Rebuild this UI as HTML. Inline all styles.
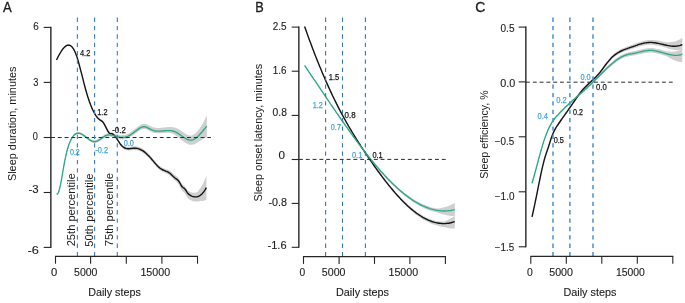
<!DOCTYPE html>
<html><head><meta charset="utf-8"><title>Figure</title>
<style>html,body{margin:0;padding:0;background:#fff;overflow:hidden;}svg{display:block;font-family:"Liberation Sans",sans-serif;will-change:transform;}</style>
</head><body>
<svg width="685" height="303" viewBox="0 0 685 303" font-family="Liberation Sans, sans-serif">
<path d="M56.5,59.5 57.5,57.5 58.5,55.5 59.5,53.6 60.5,51.9 61.5,50.3 62.5,48.8 63.5,47.5 64.5,46.4 65.6,45.6 66.6,44.9 67.6,44.5 68.6,44.4 69.6,44.5 70.6,45.0 71.6,45.8 72.6,46.9 73.6,48.4 74.6,50.2 75.6,52.4 76.6,55.1 77.6,58.2 78.6,61.6 79.6,65.3 80.6,69.2 81.7,73.2 82.7,77.2 83.7,81.2 84.7,85.0 85.7,88.7 86.7,92.2 87.7,95.5 88.7,98.5 89.7,101.4 90.7,104.0 91.7,106.5 92.7,108.7 93.7,110.7 94.7,112.6 95.7,114.2 96.7,115.6 97.7,116.8 98.8,117.8 99.8,118.6 100.8,119.2 101.8,119.8 102.8,120.7 103.8,122.0 104.8,123.8 105.8,125.8 106.8,127.8 107.8,129.7 108.8,131.1 109.8,132.0 110.8,132.2 111.8,132.2 112.8,132.6 113.8,133.4 114.9,134.5 115.9,135.8 116.9,137.3 117.9,138.8 118.9,140.4 119.9,141.8 120.9,143.2 121.9,144.3 122.9,145.2 123.9,145.9 124.9,146.3 125.9,146.7 126.9,146.8 127.9,146.9 128.9,146.9 129.9,146.8 130.9,146.7 132.0,146.5 133.0,146.4 134.0,146.3 135.0,146.3 136.0,146.3 137.0,146.4 138.0,146.6 139.0,146.9 140.0,147.3 141.0,147.8 142.0,148.3 143.0,148.9 144.0,149.6 145.0,150.4 146.0,151.3 147.0,152.2 148.0,153.2 149.1,154.2 150.1,155.4 151.1,156.5 152.1,157.7 153.1,158.9 154.1,160.1 155.1,161.3 156.1,162.4 157.1,163.5 158.1,164.5 159.1,165.4 160.1,166.2 161.1,166.9 162.1,167.5 163.1,168.0 164.1,168.4 165.2,168.8 166.2,169.2 167.2,169.5 168.2,170.0 169.2,170.5 170.2,171.1 171.2,171.9 172.2,172.8 173.2,173.8 174.2,174.7 175.2,175.4 176.2,176.1 177.2,176.8 178.2,177.8 179.2,179.0 180.2,180.8 181.2,182.8 182.3,184.2 183.3,185.0 184.3,185.7 185.3,186.7 186.3,188.3 187.3,189.9 188.3,190.9 189.3,191.6 190.3,192.0 191.3,192.4 192.3,192.6 193.3,192.8 194.3,192.8 195.3,192.7 196.3,192.5 197.3,191.9 198.4,190.8 199.4,189.5 200.4,188.1 201.4,186.5 202.4,184.7 203.4,182.8 204.4,180.6 205.4,178.3 206.4,175.8 206.4,199.4 205.4,200.2 204.4,200.6 203.4,200.9 202.4,200.9 201.4,200.8 200.4,201.0 199.4,201.3 198.4,201.4 197.3,201.4 196.3,201.5 195.3,201.6 194.3,201.5 193.3,201.3 192.3,201.0 191.3,200.6 190.3,200.1 189.3,199.5 188.3,198.7 187.3,197.6 186.3,195.8 185.3,194.0 184.3,192.8 183.3,191.9 182.3,190.9 181.2,189.3 180.2,187.1 179.2,185.2 178.2,183.7 177.2,182.6 176.2,181.6 175.2,180.8 174.2,179.9 173.2,178.9 172.2,177.9 171.2,176.8 170.2,175.9 169.2,175.1 168.2,174.5 167.2,173.9 166.2,173.4 165.2,173.0 164.1,172.5 163.1,172.1 162.1,171.6 161.1,171.0 160.1,170.3 159.1,169.5 158.1,168.6 157.1,167.5 156.1,166.5 155.1,165.3 154.1,164.2 153.1,163.0 152.1,161.8 151.1,160.6 150.1,159.4 149.1,158.3 148.0,157.2 147.0,156.2 146.0,155.3 145.0,154.4 144.0,153.6 143.0,152.9 142.0,152.3 141.0,151.8 140.0,151.3 139.0,150.9 138.0,150.6 137.0,150.3 136.0,150.2 135.0,150.1 134.0,150.1 133.0,150.1 132.0,150.2 130.9,150.3 129.9,150.4 128.9,150.4 127.9,150.4 126.9,150.3 125.9,150.1 124.9,149.7 123.9,149.2 122.9,148.5 121.9,147.6 120.9,146.4 119.9,145.0 118.9,143.5 117.9,141.9 116.9,140.3 115.9,138.8 114.9,137.5 113.8,136.4 112.8,135.5 111.8,135.1 110.8,135.0 109.8,134.8 108.8,133.9 107.8,132.4 106.8,130.5 105.8,128.4 104.8,126.3 103.8,124.5 102.8,123.2 101.8,122.3 100.8,121.6 99.8,121.0 98.8,120.1 97.7,119.1 96.7,117.9 95.7,116.4 94.7,114.8 93.7,112.9 92.7,110.9 91.7,108.6 90.7,106.2 89.7,103.5 88.7,100.6 87.7,97.5 86.7,94.2 85.7,90.7 84.7,86.9 83.7,83.1 82.7,79.1 81.7,75.0 80.6,71.0 79.6,67.0 78.6,63.3 77.6,59.8 76.6,56.7 75.6,54.1 74.6,51.8 73.6,49.9 72.6,48.4 71.6,47.3 70.6,46.5 69.6,46.0 68.6,45.8 67.6,45.9 66.6,46.3 65.6,46.9 64.5,47.7 63.5,48.8 62.5,50.0 61.5,51.4 60.5,53.0 59.5,54.7 58.5,56.6 57.5,58.5 56.5,60.5Z" fill="#cfcfcf"/>
<path d="M56.6,193.6 57.6,193.5 58.6,191.5 59.6,188.1 60.6,183.5 61.6,178.1 62.6,172.4 63.6,166.5 64.6,161.0 65.6,156.1 66.6,151.7 67.6,148.0 68.6,144.7 69.6,141.9 70.6,139.6 71.6,137.6 72.6,136.0 73.6,134.7 74.6,133.7 75.6,133.0 76.6,132.5 77.6,132.3 78.6,132.2 79.6,132.3 80.6,132.6 81.6,133.1 82.6,133.6 83.6,134.2 84.6,134.9 85.6,135.6 86.6,136.4 87.6,137.1 88.6,137.8 89.6,138.5 90.6,139.1 91.6,139.6 92.6,140.0 93.6,140.2 94.7,140.2 95.7,140.1 96.7,139.8 97.7,139.3 98.7,138.7 99.7,138.1 100.7,137.4 101.7,136.6 102.7,135.9 103.7,135.2 104.7,134.5 105.7,134.0 106.7,133.6 107.7,133.3 108.7,133.1 109.7,133.1 110.7,133.2 111.7,133.3 112.7,133.5 113.7,133.7 114.7,134.0 115.7,134.2 116.7,134.5 117.7,134.7 118.7,134.9 119.7,135.1 120.7,135.2 121.7,135.2 122.7,135.2 123.7,135.1 124.7,135.0 125.7,134.7 126.7,134.3 127.7,133.9 128.7,133.4 129.7,132.8 130.7,132.2 131.7,131.5 132.7,130.7 133.7,130.0 134.7,129.2 135.7,128.4 136.7,127.6 137.7,126.8 138.7,126.1 139.7,125.4 140.7,124.8 141.7,124.3 142.7,124.0 143.7,123.8 144.7,123.8 145.7,124.0 146.7,124.3 147.7,124.8 148.7,125.3 149.7,125.8 150.7,126.3 151.7,126.8 152.7,127.2 153.7,127.4 154.7,127.6 155.7,127.8 156.7,127.9 157.7,127.9 158.7,127.9 159.7,127.9 160.7,127.8 161.7,127.7 162.7,127.6 163.7,127.5 164.7,127.4 165.7,127.3 166.7,127.2 167.7,127.1 168.7,127.1 169.8,127.1 170.8,127.1 171.8,127.1 172.8,127.2 173.8,127.4 174.8,127.6 175.8,127.9 176.8,128.3 177.8,128.8 178.8,129.3 179.8,129.9 180.8,130.5 181.8,131.2 182.8,131.9 183.8,132.6 184.8,133.3 185.8,133.9 186.8,134.4 187.8,134.9 188.8,135.2 189.8,135.4 190.8,135.5 191.8,135.5 192.8,135.1 193.8,134.5 194.8,133.8 195.8,133.0 196.8,132.0 197.8,131.0 198.8,129.6 199.8,128.2 200.8,126.7 201.8,125.1 202.8,123.6 203.8,121.7 204.8,119.5 205.8,117.3 206.8,115.2 206.8,137.4 205.8,137.7 204.8,138.1 203.8,138.5 202.8,139.0 201.8,139.7 200.8,140.4 199.8,141.1 198.8,141.6 197.8,142.1 196.8,142.9 195.8,143.5 194.8,144.0 193.8,144.4 192.8,144.6 191.8,144.8 190.8,144.8 189.8,144.7 188.8,144.4 187.8,144.0 186.8,143.6 185.8,143.0 184.8,142.4 183.8,141.7 182.8,140.9 181.8,140.2 180.8,139.4 179.8,138.5 178.8,137.7 177.8,136.9 176.8,136.1 175.8,135.5 174.8,134.8 173.8,134.2 172.8,133.7 171.8,133.3 170.8,133.0 169.8,132.7 168.7,132.7 167.7,132.7 166.7,132.7 165.7,132.8 164.7,132.9 163.7,133.0 162.7,133.0 161.7,133.1 160.7,133.2 159.7,133.3 158.7,133.3 157.7,133.3 156.7,133.2 155.7,133.1 154.7,132.9 153.7,132.7 152.7,132.4 151.7,132.0 150.7,131.6 149.7,131.0 148.7,130.5 147.7,129.9 146.7,129.5 145.7,129.1 144.7,128.9 143.7,128.9 142.7,129.0 141.7,129.4 140.7,129.8 139.7,130.4 138.7,131.0 137.7,131.7 136.7,132.5 135.7,133.2 134.7,133.9 133.7,134.7 132.7,135.4 131.7,136.1 130.7,136.7 129.7,137.3 128.7,137.8 127.7,138.3 126.7,138.7 125.7,139.0 124.7,139.2 123.7,139.3 122.7,139.4 121.7,139.3 120.7,139.2 119.7,139.1 118.7,138.8 117.7,138.6 116.7,138.3 115.7,138.0 114.7,137.7 113.7,137.4 112.7,137.1 111.7,136.9 110.7,136.7 109.7,136.6 108.7,136.6 107.7,136.7 106.7,136.9 105.7,137.3 104.7,137.7 103.7,138.3 102.7,139.0 101.7,139.7 100.7,140.4 99.7,141.1 98.7,141.7 97.7,142.2 96.7,142.6 95.7,142.9 94.7,143.0 93.6,142.9 92.6,142.6 91.6,142.2 90.6,141.7 89.6,141.0 88.6,140.3 87.6,139.6 86.6,138.8 85.6,138.0 84.6,137.2 83.6,136.5 82.6,135.8 81.6,135.2 80.6,134.8 79.6,134.4 78.6,134.2 77.6,134.2 76.6,134.4 75.6,134.9 74.6,135.6 73.6,136.5 72.6,137.8 71.6,139.3 70.6,141.2 69.6,143.5 68.6,146.3 67.6,149.5 66.6,153.2 65.6,157.5 64.6,162.4 63.6,167.9 62.6,173.7 61.6,179.4 60.6,184.7 59.6,189.2 58.6,192.6 57.6,194.6 56.6,194.6Z" fill="#cfcfcf"/>
<path d="M56.5,60.0 57.5,58.0 58.5,56.0 59.5,54.2 60.5,52.5 61.5,50.9 62.5,49.4 63.5,48.2 64.5,47.1 65.6,46.2 66.6,45.6 67.6,45.2 68.6,45.1 69.6,45.3 70.6,45.7 71.6,46.5 72.6,47.6 73.6,49.1 74.6,51.0 75.6,53.2 76.6,55.9 77.6,59.0 78.6,62.4 79.6,66.2 80.6,70.1 81.7,74.1 82.7,78.1 83.7,82.1 84.7,86.0 85.7,89.7 86.7,93.2 87.7,96.5 88.7,99.6 89.7,102.4 90.7,105.1 91.7,107.6 92.7,109.8 93.7,111.8 94.7,113.7 95.7,115.3 96.7,116.7 97.7,117.9 98.8,119.0 99.8,119.8 100.8,120.4 101.8,121.1 102.8,121.9 103.8,123.3 104.8,125.1 105.8,127.1 106.8,129.1 107.8,131.0 108.8,132.5 109.8,133.4 110.8,133.6 111.8,133.6 112.8,134.1 113.8,134.9 114.9,136.0 115.9,137.3 116.9,138.8 117.9,140.4 118.9,141.9 119.9,143.4 120.9,144.8 121.9,145.9 122.9,146.8 123.9,147.5 124.9,148.0 125.9,148.4 126.9,148.6 127.9,148.7 128.9,148.7 129.9,148.6 130.9,148.5 132.0,148.4 133.0,148.2 134.0,148.2 135.0,148.2 136.0,148.2 137.0,148.4 138.0,148.6 139.0,148.9 140.0,149.3 141.0,149.8 142.0,150.3 143.0,150.9 144.0,151.6 145.0,152.4 146.0,153.3 147.0,154.2 148.0,155.2 149.1,156.2 150.1,157.4 151.1,158.5 152.1,159.7 153.1,160.9 154.1,162.1 155.1,163.3 156.1,164.4 157.1,165.5 158.1,166.5 159.1,167.4 160.1,168.2 161.1,168.9 162.1,169.5 163.1,170.0 164.1,170.4 165.2,170.8 166.2,171.3 167.2,171.7 168.2,172.2 169.2,172.8 170.2,173.5 171.2,174.4 172.2,175.4 173.2,176.4 174.2,177.3 175.2,178.2 176.2,178.9 177.2,179.6 178.2,180.5 179.2,181.8 180.2,183.5 181.2,185.5 182.3,187.0 183.3,187.7 184.3,188.4 185.3,189.5 186.3,191.0 187.3,192.7 188.3,193.9 189.3,194.7 190.3,195.3 191.3,195.9 192.3,196.3 193.3,196.6 194.3,196.8 195.3,196.9 196.3,196.9 197.3,196.7 198.4,196.4 199.4,195.9 200.4,195.2 201.4,194.4 202.4,193.4 203.4,192.3 204.4,190.9 205.4,189.4 206.4,187.6" fill="none" stroke="#141414" stroke-width="1.4" stroke-linejoin="round"/>
<path d="M56.6,194.1 57.6,194.0 58.6,192.1 59.6,188.7 60.6,184.1 61.6,178.8 62.6,173.0 63.6,167.2 64.6,161.7 65.6,156.8 66.6,152.5 67.6,148.7 68.6,145.5 69.6,142.7 70.6,140.4 71.6,138.5 72.6,136.9 73.6,135.6 74.6,134.6 75.6,133.9 76.6,133.5 77.6,133.2 78.6,133.2 79.6,133.4 80.6,133.7 81.6,134.1 82.6,134.7 83.6,135.4 84.6,136.1 85.6,136.8 86.6,137.6 87.6,138.4 88.6,139.1 89.6,139.8 90.6,140.4 91.6,140.9 92.6,141.3 93.6,141.5 94.7,141.6 95.7,141.5 96.7,141.2 97.7,140.8 98.7,140.2 99.7,139.6 100.7,138.9 101.7,138.2 102.7,137.4 103.7,136.8 104.7,136.2 105.7,135.7 106.7,135.3 107.7,135.0 108.7,134.9 109.7,134.9 110.7,135.0 111.7,135.2 112.7,135.4 113.7,135.6 114.7,135.9 115.7,136.2 116.7,136.5 117.7,136.8 118.7,137.0 119.7,137.2 120.7,137.4 121.7,137.4 122.7,137.5 123.7,137.4 124.7,137.3 125.7,137.0 126.7,136.7 127.7,136.3 128.7,135.8 129.7,135.3 130.7,134.7 131.7,134.0 132.7,133.3 133.7,132.6 134.7,131.8 135.7,131.1 136.7,130.3 137.7,129.6 138.7,128.9 139.7,128.2 140.7,127.6 141.7,127.2 142.7,126.8 143.7,126.7 144.7,126.7 145.7,126.9 146.7,127.3 147.7,127.8 148.7,128.3 149.7,128.9 150.7,129.4 151.7,129.9 152.7,130.2 153.7,130.6 154.7,130.8 155.7,131.0 156.7,131.1 157.7,131.1 158.7,131.1 159.7,131.1 160.7,131.1 161.7,131.0 162.7,130.9 163.7,130.8 164.7,130.7 165.7,130.7 166.7,130.6 167.7,130.6 168.7,130.6 169.8,130.6 170.8,130.7 171.8,130.8 172.8,131.0 173.8,131.3 174.8,131.7 175.8,132.1 176.8,132.6 177.8,133.2 178.8,133.9 179.8,134.5 180.8,135.2 181.8,136.0 182.8,136.7 183.8,137.4 184.8,138.0 185.8,138.6 186.8,139.1 187.8,139.5 188.8,139.9 189.8,140.1 190.8,140.1 191.8,140.1 192.8,139.8 193.8,139.4 194.8,138.9 195.8,138.2 196.8,137.4 197.8,136.5 198.8,135.5 199.8,134.4 200.8,133.3 201.8,132.2 202.8,131.0 203.8,129.8 204.8,128.6 205.8,127.4 206.8,126.3" fill="none" stroke="#2ea88a" stroke-width="1.35" stroke-linejoin="round"/>
<line x1="51.00" y1="137.50" x2="210.90" y2="137.50" stroke="#2a2a2a" stroke-width="1" stroke-dasharray="3.9 2.9"/>
<line x1="77.40" y1="17.60" x2="77.40" y2="256.40" stroke="#3a7cc2" stroke-width="1.1" stroke-dasharray="4.3 4.07"/>
<line x1="94.60" y1="17.60" x2="94.60" y2="256.40" stroke="#3a7cc2" stroke-width="1.1" stroke-dasharray="4.3 4.07"/>
<line x1="117.30" y1="17.60" x2="117.30" y2="256.40" stroke="#3a7cc2" stroke-width="1.1" stroke-dasharray="4.3 4.07"/>
<text x="2.90" y="11.90" font-size="13.8" textLength="8.73" lengthAdjust="spacingAndGlyphs" fill="#1c1c1c" stroke="#1c1c1c" stroke-width="0.3">A</text>
<line x1="50.85" y1="26.85" x2="50.85" y2="247.95" stroke="#262626" stroke-width="1.4"/>
<line x1="43.70" y1="27.40" x2="51.00" y2="27.40" stroke="#262626" stroke-width="1.1"/>
<text x="33.31" y="30.20" font-size="10.2" textLength="5.50" lengthAdjust="spacingAndGlyphs" fill="#1c1c1c" stroke="#1c1c1c" stroke-width="0.12">6</text>
<line x1="43.70" y1="82.40" x2="51.00" y2="82.40" stroke="#262626" stroke-width="1.1"/>
<text x="33.13" y="85.60" font-size="10.2" textLength="5.15" lengthAdjust="spacingAndGlyphs" fill="#1c1c1c" stroke="#1c1c1c" stroke-width="0.12">3</text>
<line x1="43.70" y1="137.50" x2="51.00" y2="137.50" stroke="#262626" stroke-width="1.1"/>
<text x="32.63" y="140.30" font-size="10.2" textLength="5.10" lengthAdjust="spacingAndGlyphs" fill="#1c1c1c" stroke="#1c1c1c" stroke-width="0.12">0</text>
<line x1="43.70" y1="192.50" x2="51.00" y2="192.50" stroke="#262626" stroke-width="1.1"/>
<text x="28.49" y="192.70" font-size="10.2" textLength="10.16" lengthAdjust="spacingAndGlyphs" fill="#1c1c1c" stroke="#1c1c1c" stroke-width="0.12">-3</text>
<line x1="43.70" y1="247.40" x2="51.00" y2="247.40" stroke="#262626" stroke-width="1.1"/>
<text x="27.62" y="253.50" font-size="10.2" textLength="11.38" lengthAdjust="spacingAndGlyphs" fill="#1c1c1c" stroke="#1c1c1c" stroke-width="0.12">-6</text>
<line x1="54.95" y1="256.40" x2="198.05" y2="256.40" stroke="#262626" stroke-width="1.1"/>
<line x1="55.50" y1="256.40" x2="55.50" y2="263.70" stroke="#262626" stroke-width="1.1"/>
<line x1="90.60" y1="256.40" x2="90.60" y2="263.70" stroke="#262626" stroke-width="1.1"/>
<line x1="126.30" y1="256.40" x2="126.30" y2="263.70" stroke="#262626" stroke-width="1.1"/>
<line x1="161.90" y1="256.40" x2="161.90" y2="263.70" stroke="#262626" stroke-width="1.1"/>
<line x1="197.50" y1="256.40" x2="197.50" y2="263.70" stroke="#262626" stroke-width="1.1"/>
<text x="51.05" y="276.20" font-size="10.2" textLength="6.26" lengthAdjust="spacingAndGlyphs" fill="#1c1c1c" stroke="#1c1c1c" stroke-width="0.12">0</text>
<text x="74.08" y="276.20" font-size="10.2" textLength="23.39" lengthAdjust="spacingAndGlyphs" fill="#1c1c1c" stroke="#1c1c1c" stroke-width="0.12">5000</text>
<text x="140.40" y="276.20" font-size="10.2" textLength="29.79" lengthAdjust="spacingAndGlyphs" fill="#1c1c1c" stroke="#1c1c1c" stroke-width="0.12">15000</text>
<text x="88.24" y="296.10" font-size="10.7" textLength="52.54" lengthAdjust="spacingAndGlyphs" fill="#1c1c1c" stroke="#1c1c1c" stroke-width="0.12">Daily steps</text>
<text transform="translate(16.30 180.60) rotate(-90)" x="-0.49" y="0" font-size="10.8" textLength="114.59" lengthAdjust="spacingAndGlyphs" fill="#1c1c1c">Sleep duration, minutes</text>
<text x="79.95" y="56.00" font-size="9" textLength="10.32" lengthAdjust="spacingAndGlyphs" fill="#141414" stroke="#141414" stroke-width="0.25">4.2</text>
<text x="97.25" y="115.30" font-size="9" textLength="10.22" lengthAdjust="spacingAndGlyphs" fill="#141414" stroke="#141414" stroke-width="0.25">1.2</text>
<text x="112.25" y="133.30" font-size="9" textLength="13.57" lengthAdjust="spacingAndGlyphs" fill="#141414" stroke="#141414" stroke-width="0.25">-0.2</text>
<text x="69.91" y="154.70" font-size="9" textLength="9.94" lengthAdjust="spacingAndGlyphs" fill="#45a4d9" stroke="#45a4d9" stroke-width="0.25">0.2</text>
<text x="95.37" y="153.10" font-size="9" textLength="12.62" lengthAdjust="spacingAndGlyphs" fill="#45a4d9" stroke="#45a4d9" stroke-width="0.25">-0.2</text>
<text x="123.71" y="145.70" font-size="9" textLength="10.15" lengthAdjust="spacingAndGlyphs" fill="#45a4d9" stroke="#45a4d9" stroke-width="0.25">0.0</text>
<text transform="translate(75.20 245.80) rotate(-90)" x="-0.56" y="0" font-size="10.6" textLength="73.06" lengthAdjust="spacingAndGlyphs" fill="#1c1c1c">25th percentile</text>
<text transform="translate(93.10 246.20) rotate(-90)" x="-0.45" y="0" font-size="10.6" textLength="73.15" lengthAdjust="spacingAndGlyphs" fill="#1c1c1c">50th percentile</text>
<text transform="translate(113.30 245.60) rotate(-90)" x="-0.56" y="0" font-size="10.6" textLength="73.06" lengthAdjust="spacingAndGlyphs" fill="#1c1c1c">75th percentile</text>
<path d="M304.6,25.9 305.6,28.7 306.6,31.6 307.6,34.4 308.6,37.1 309.6,39.8 310.6,42.6 311.6,45.2 312.6,47.9 313.6,50.5 314.6,53.1 315.6,55.6 316.6,58.2 317.6,60.7 318.6,63.1 319.6,65.6 320.6,68.0 321.6,70.4 322.6,72.7 323.6,75.1 324.6,77.4 325.6,79.7 326.6,81.9 327.6,84.2 328.6,86.4 329.6,88.6 330.6,90.7 331.6,92.8 332.6,94.9 333.6,97.0 334.6,99.1 335.6,101.1 336.6,103.1 337.6,105.1 338.6,107.1 339.6,109.0 340.6,110.9 341.6,112.8 342.7,114.7 343.7,116.5 344.7,118.3 345.7,120.1 346.7,121.9 347.7,123.7 348.7,125.4 349.7,127.1 350.7,128.8 351.7,130.5 352.7,132.1 353.7,133.8 354.7,135.4 355.7,137.0 356.7,138.6 357.7,140.2 358.7,141.7 359.7,143.3 360.7,144.8 361.7,146.3 362.7,147.9 363.7,149.4 364.7,150.9 365.7,152.4 366.7,153.8 367.7,155.3 368.7,156.8 369.7,158.2 370.7,159.7 371.7,161.1 372.7,162.6 373.7,164.0 374.7,165.4 375.7,166.8 376.7,168.2 377.7,169.6 378.7,170.9 379.7,172.3 380.7,173.6 381.7,175.0 382.7,176.3 383.7,177.6 384.7,178.9 385.7,180.2 386.7,181.4 387.7,182.7 388.7,183.9 389.7,185.2 390.7,186.4 391.7,187.6 392.7,188.8 393.7,189.9 394.7,191.1 395.7,192.2 396.7,193.4 397.7,194.5 398.7,195.6 399.7,196.6 400.7,197.7 401.7,198.7 402.7,199.7 403.7,200.7 404.7,201.7 405.7,202.6 406.7,203.6 407.7,204.5 408.7,205.4 409.7,206.3 410.7,207.1 411.7,207.9 412.7,208.8 413.7,209.6 414.7,210.3 415.7,211.1 416.7,211.8 417.8,212.5 418.8,213.2 419.8,213.8 420.8,214.5 421.8,215.1 422.8,215.6 423.8,216.2 424.8,216.7 425.8,217.2 426.8,217.7 427.8,218.2 428.8,218.6 429.8,219.0 430.8,219.4 431.8,219.7 432.8,220.1 433.8,220.3 434.8,220.6 435.8,220.9 436.8,221.1 437.8,221.2 438.8,221.3 439.8,221.4 440.8,221.4 441.8,221.5 442.8,221.5 443.8,221.4 444.8,221.3 445.8,220.9 446.8,220.5 447.8,220.0 448.8,219.5 449.8,219.0 450.8,218.4 451.8,217.9 452.8,217.2 453.8,216.6 454.8,215.9 454.8,228.6 453.8,228.6 452.8,228.6 451.8,228.5 450.8,228.5 449.8,228.3 448.8,228.2 447.8,228.0 446.8,227.8 445.8,227.6 444.8,227.3 443.8,227.1 442.8,227.0 441.8,226.8 440.8,226.5 439.8,226.3 438.8,226.0 437.8,225.7 436.8,225.3 435.8,225.1 434.8,224.8 433.8,224.5 432.8,224.2 431.8,223.8 430.8,223.4 429.8,223.0 428.8,222.5 427.8,222.1 426.8,221.6 425.8,221.0 424.8,220.5 423.8,219.9 422.8,219.3 421.8,218.7 420.8,218.0 419.8,217.3 418.8,216.6 417.8,215.9 416.7,215.2 415.7,214.4 414.7,213.6 413.7,212.8 412.7,211.9 411.7,211.1 410.7,210.2 409.7,209.3 408.7,208.4 407.7,207.4 406.7,206.5 405.7,205.5 404.7,204.5 403.7,203.5 402.7,202.4 401.7,201.4 400.7,200.3 399.7,199.2 398.7,198.1 397.7,197.0 396.7,195.9 395.7,194.8 394.7,193.6 393.7,192.4 392.7,191.3 391.7,190.1 390.7,188.8 389.7,187.6 388.7,186.4 387.7,185.1 386.7,183.8 385.7,182.5 384.7,181.2 383.7,179.9 382.7,178.6 381.7,177.3 380.7,175.9 379.7,174.5 378.7,173.2 377.7,171.8 376.7,170.4 375.7,169.0 374.7,167.6 373.7,166.1 372.7,164.7 371.7,163.2 370.7,161.8 369.7,160.3 368.7,158.9 367.7,157.4 366.7,155.9 365.7,154.4 364.7,152.9 363.7,151.4 362.7,149.8 361.7,148.3 360.7,146.8 359.7,145.2 358.7,143.6 357.7,142.0 356.7,140.5 355.7,138.8 354.7,137.2 353.7,135.6 352.7,133.9 351.7,132.3 350.7,130.6 349.7,128.9 348.7,127.1 347.7,125.4 346.7,123.6 345.7,121.8 344.7,120.0 343.7,118.2 342.7,116.3 341.6,114.4 340.6,112.5 339.6,110.6 338.6,108.6 337.6,106.7 336.6,104.7 335.6,102.6 334.6,100.6 333.6,98.5 332.6,96.4 331.6,94.3 330.6,92.2 329.6,90.0 328.6,87.8 327.6,85.6 326.6,83.3 325.6,81.0 324.6,78.7 323.6,76.4 322.6,74.1 321.6,71.7 320.6,69.3 319.6,66.8 318.6,64.4 317.6,61.9 316.6,59.4 315.6,56.8 314.6,54.2 313.6,51.6 312.6,49.0 311.6,46.3 310.6,43.7 309.6,40.9 308.6,38.2 307.6,35.4 306.6,32.6 305.6,29.8 304.6,26.9Z" fill="#cfcfcf"/>
<path d="M304.6,65.0 305.6,66.4 306.6,67.9 307.6,69.4 308.6,70.8 309.6,72.3 310.6,73.8 311.6,75.2 312.6,76.7 313.6,78.2 314.6,79.7 315.6,81.1 316.6,82.6 317.6,84.1 318.6,85.6 319.6,87.0 320.6,88.5 321.6,90.0 322.6,91.5 323.6,93.0 324.6,94.4 325.6,95.9 326.6,97.4 327.6,98.9 328.6,100.3 329.6,101.8 330.6,103.3 331.6,104.7 332.6,106.2 333.6,107.7 334.6,109.1 335.6,110.6 336.6,112.0 337.6,113.5 338.6,114.9 339.6,116.4 340.6,117.8 341.6,119.2 342.7,120.7 343.7,122.1 344.7,123.5 345.7,124.9 346.7,126.3 347.7,127.7 348.7,129.1 349.7,130.5 350.7,131.9 351.7,133.3 352.7,134.7 353.7,136.0 354.7,137.4 355.7,138.8 356.7,140.1 357.7,141.5 358.7,142.8 359.7,144.1 360.7,145.4 361.7,146.7 362.7,148.1 363.7,149.4 364.7,150.6 365.7,151.9 366.7,153.2 367.7,154.4 368.7,155.7 369.7,156.9 370.7,158.2 371.7,159.4 372.7,160.6 373.7,161.8 374.7,163.0 375.7,164.2 376.7,165.4 377.7,166.5 378.7,167.7 379.7,168.8 380.7,169.9 381.7,171.0 382.7,172.1 383.7,173.2 384.7,174.3 385.7,175.4 386.7,176.4 387.7,177.5 388.7,178.5 389.7,179.5 390.7,180.5 391.7,181.5 392.7,182.5 393.7,183.4 394.7,184.4 395.7,185.3 396.7,186.2 397.7,187.1 398.7,188.0 399.7,188.9 400.7,189.7 401.7,190.6 402.7,191.4 403.7,192.2 404.7,193.0 405.7,193.8 406.7,194.5 407.7,195.2 408.7,196.0 409.7,196.7 410.7,197.4 411.7,198.0 412.7,198.7 413.7,199.3 414.7,199.9 415.7,200.5 416.7,201.1 417.8,201.7 418.8,202.2 419.8,202.7 420.8,203.2 421.8,203.7 422.8,204.2 423.8,204.6 424.8,205.0 425.8,205.5 426.8,205.8 427.8,206.2 428.8,206.5 429.8,206.9 430.8,207.2 431.8,207.4 432.8,207.7 433.8,207.9 434.8,208.2 435.8,208.3 436.8,208.5 437.8,208.5 438.8,208.4 439.8,208.2 440.8,208.0 441.8,207.9 442.8,207.6 443.8,207.4 444.8,207.1 445.8,206.9 446.8,206.5 447.8,206.2 448.8,205.8 449.8,205.4 450.8,205.0 451.8,204.6 452.8,204.1 453.8,203.6 454.8,203.1 454.8,216.2 453.8,216.2 452.8,216.1 451.8,216.0 450.8,215.9 449.8,215.8 448.8,215.6 447.8,215.4 446.8,215.2 445.8,215.0 444.8,214.7 443.8,214.5 442.8,214.2 441.8,214.0 440.8,213.7 439.8,213.3 438.8,213.0 437.8,212.6 436.8,212.3 435.8,212.1 434.8,211.9 433.8,211.6 432.8,211.4 431.8,211.1 430.8,210.8 429.8,210.4 428.8,210.1 427.8,209.7 426.8,209.3 425.8,208.9 424.8,208.4 423.8,208.0 422.8,207.5 421.8,207.0 420.8,206.5 419.8,206.0 418.8,205.4 417.8,204.8 416.7,204.2 415.7,203.6 414.7,203.0 413.7,202.4 412.7,201.7 411.7,201.0 410.7,200.3 409.7,199.6 408.7,198.8 407.7,198.1 406.7,197.3 405.7,196.5 404.7,195.7 403.7,194.9 402.7,194.1 401.7,193.2 400.7,192.4 399.7,191.5 398.7,190.6 397.7,189.7 396.7,188.8 395.7,187.8 394.7,186.9 393.7,185.9 392.7,185.0 391.7,184.0 390.7,183.0 389.7,181.9 388.7,180.9 387.7,179.9 386.7,178.8 385.7,177.7 384.7,176.7 383.7,175.6 382.7,174.5 381.7,173.3 380.7,172.2 379.7,171.1 378.7,169.9 377.7,168.7 376.7,167.6 375.7,166.4 374.7,165.2 373.7,164.0 372.7,162.8 371.7,161.5 370.7,160.3 369.7,159.0 368.7,157.8 367.7,156.5 366.7,155.2 365.7,153.9 364.7,152.6 363.7,151.3 362.7,150.0 361.7,148.7 360.7,147.4 359.7,146.0 358.7,144.7 357.7,143.3 356.7,142.0 355.7,140.6 354.7,139.2 353.7,137.9 352.7,136.5 351.7,135.1 350.7,133.7 349.7,132.3 348.7,130.9 347.7,129.5 346.7,128.0 345.7,126.6 344.7,125.2 343.7,123.7 342.7,122.3 341.6,120.9 340.6,119.4 339.6,117.9 338.6,116.5 337.6,115.0 336.6,113.6 335.6,112.1 334.6,110.6 333.6,109.1 332.6,107.7 331.6,106.2 330.6,104.7 329.6,103.2 328.6,101.7 327.6,100.2 326.6,98.8 325.6,97.3 324.6,95.8 323.6,94.3 322.6,92.8 321.6,91.3 320.6,89.8 319.6,88.3 318.6,86.8 317.6,85.3 316.6,83.8 315.6,82.3 314.6,80.8 313.6,79.3 312.6,77.8 311.6,76.4 310.6,74.9 309.6,73.4 308.6,71.9 307.6,70.4 306.6,68.9 305.6,67.5 304.6,66.0Z" fill="#cfcfcf"/>
<path d="M304.6,26.4 305.6,29.3 306.6,32.1 307.6,34.9 308.6,37.7 309.6,40.4 310.6,43.1 311.6,45.8 312.6,48.4 313.6,51.1 314.6,53.7 315.6,56.2 316.6,58.8 317.6,61.3 318.6,63.7 319.6,66.2 320.6,68.6 321.6,71.0 322.6,73.4 323.6,75.7 324.6,78.1 325.6,80.4 326.6,82.6 327.6,84.9 328.6,87.1 329.6,89.3 330.6,91.4 331.6,93.6 332.6,95.7 333.6,97.8 334.6,99.8 335.6,101.9 336.6,103.9 337.6,105.9 338.6,107.9 339.6,109.8 340.6,111.7 341.6,113.6 342.7,115.5 343.7,117.3 344.7,119.2 345.7,121.0 346.7,122.8 347.7,124.5 348.7,126.3 349.7,128.0 350.7,129.7 351.7,131.4 352.7,133.0 353.7,134.7 354.7,136.3 355.7,137.9 356.7,139.5 357.7,141.1 358.7,142.7 359.7,144.2 360.7,145.8 361.7,147.3 362.7,148.9 363.7,150.4 364.7,151.9 365.7,153.4 366.7,154.9 367.7,156.3 368.7,157.8 369.7,159.3 370.7,160.7 371.7,162.2 372.7,163.6 373.7,165.1 374.7,166.5 375.7,167.9 376.7,169.3 377.7,170.7 378.7,172.0 379.7,173.4 380.7,174.8 381.7,176.1 382.7,177.4 383.7,178.8 384.7,180.1 385.7,181.4 386.7,182.6 387.7,183.9 388.7,185.2 389.7,186.4 390.7,187.6 391.7,188.8 392.7,190.0 393.7,191.2 394.7,192.4 395.7,193.5 396.7,194.6 397.7,195.7 398.7,196.8 399.7,197.9 400.7,199.0 401.7,200.0 402.7,201.1 403.7,202.1 404.7,203.0 405.7,204.0 406.7,205.0 407.7,205.9 408.7,206.8 409.7,207.7 410.7,208.6 411.7,209.4 412.7,210.2 413.7,211.0 414.7,211.8 415.7,212.6 416.7,213.3 417.8,214.0 418.8,214.7 419.8,215.4 420.8,216.0 421.8,216.7 422.8,217.3 423.8,217.8 424.8,218.4 425.8,218.9 426.8,219.4 427.8,219.9 428.8,220.3 429.8,220.7 430.8,221.1 431.8,221.5 432.8,221.8 433.8,222.1 434.8,222.4 435.8,222.6 436.8,222.9 437.8,223.0 438.8,223.2 439.8,223.3 440.8,223.4 441.8,223.5 442.8,223.6 443.8,223.6 444.8,223.6 445.8,223.5 446.8,223.4 447.8,223.3 448.8,223.2 449.8,223.0 450.8,222.8 451.8,222.5 452.8,222.2 453.8,221.9 454.8,221.6" fill="none" stroke="#141414" stroke-width="1.4" stroke-linejoin="round"/>
<path d="M304.6,65.5 305.6,66.9 306.6,68.4 307.6,69.9 308.6,71.4 309.6,72.8 310.6,74.3 311.6,75.8 312.6,77.3 313.6,78.8 314.6,80.2 315.6,81.7 316.6,83.2 317.6,84.7 318.6,86.2 319.6,87.7 320.6,89.2 321.6,90.6 322.6,92.1 323.6,93.6 324.6,95.1 325.6,96.6 326.6,98.1 327.6,99.6 328.6,101.0 329.6,102.5 330.6,104.0 331.6,105.5 332.6,106.9 333.6,108.4 334.6,109.9 335.6,111.3 336.6,112.8 337.6,114.2 338.6,115.7 339.6,117.2 340.6,118.6 341.6,120.0 342.7,121.5 343.7,122.9 344.7,124.3 345.7,125.8 346.7,127.2 347.7,128.6 348.7,130.0 349.7,131.4 350.7,132.8 351.7,134.2 352.7,135.6 353.7,137.0 354.7,138.3 355.7,139.7 356.7,141.1 357.7,142.4 358.7,143.7 359.7,145.1 360.7,146.4 361.7,147.7 362.7,149.0 363.7,150.3 364.7,151.6 365.7,152.9 366.7,154.2 367.7,155.5 368.7,156.7 369.7,158.0 370.7,159.2 371.7,160.5 372.7,161.7 373.7,162.9 374.7,164.1 375.7,165.3 376.7,166.5 377.7,167.6 378.7,168.8 379.7,169.9 380.7,171.1 381.7,172.2 382.7,173.3 383.7,174.4 384.7,175.5 385.7,176.6 386.7,177.6 387.7,178.7 388.7,179.7 389.7,180.7 390.7,181.7 391.7,182.7 392.7,183.7 393.7,184.7 394.7,185.6 395.7,186.6 396.7,187.5 397.7,188.4 398.7,189.3 399.7,190.2 400.7,191.0 401.7,191.9 402.7,192.7 403.7,193.5 404.7,194.3 405.7,195.1 406.7,195.9 407.7,196.6 408.7,197.4 409.7,198.1 410.7,198.8 411.7,199.5 412.7,200.1 413.7,200.8 414.7,201.4 415.7,202.0 416.7,202.6 417.8,203.2 418.8,203.8 419.8,204.3 420.8,204.8 421.8,205.3 422.8,205.8 423.8,206.2 424.8,206.7 425.8,207.1 426.8,207.5 427.8,207.9 428.8,208.2 429.8,208.6 430.8,208.9 431.8,209.2 432.8,209.4 433.8,209.7 434.8,209.9 435.8,210.1 436.8,210.3 437.8,210.5 438.8,210.6 439.8,210.7 440.8,210.8 441.8,210.9 442.8,210.9 443.8,211.0 444.8,211.0 445.8,210.9 446.8,210.9 447.8,210.8 448.8,210.7 449.8,210.6 450.8,210.5 451.8,210.3 452.8,210.1 453.8,209.9 454.8,209.6" fill="none" stroke="#2ea88a" stroke-width="1.35" stroke-linejoin="round"/>
<line x1="299.00" y1="159.40" x2="446.00" y2="159.40" stroke="#2a2a2a" stroke-width="1" stroke-dasharray="3.9 2.9"/>
<line x1="325.60" y1="17.60" x2="325.60" y2="256.60" stroke="#3874b8" stroke-width="1.1" stroke-dasharray="4.3 4.07"/>
<line x1="342.50" y1="17.60" x2="342.50" y2="256.60" stroke="#3874b8" stroke-width="1.1" stroke-dasharray="4.3 4.07"/>
<line x1="365.40" y1="17.60" x2="365.40" y2="256.60" stroke="#3874b8" stroke-width="1.1" stroke-dasharray="4.3 4.07"/>
<text x="255.28" y="11.90" font-size="13.8" textLength="8.48" lengthAdjust="spacingAndGlyphs" fill="#1c1c1c" stroke="#1c1c1c" stroke-width="0.3">B</text>
<line x1="298.85" y1="26.55" x2="298.85" y2="247.85" stroke="#262626" stroke-width="1.4"/>
<line x1="291.70" y1="27.10" x2="299.00" y2="27.10" stroke="#262626" stroke-width="1.1"/>
<text x="272.80" y="30.00" font-size="10.2" textLength="13.79" lengthAdjust="spacingAndGlyphs" fill="#1c1c1c" stroke="#1c1c1c" stroke-width="0.12">2.5</text>
<line x1="291.70" y1="71.20" x2="299.00" y2="71.20" stroke="#262626" stroke-width="1.1"/>
<text x="272.86" y="74.00" font-size="10.2" textLength="13.74" lengthAdjust="spacingAndGlyphs" fill="#1c1c1c" stroke="#1c1c1c" stroke-width="0.12">1.6</text>
<line x1="291.70" y1="115.40" x2="299.00" y2="115.40" stroke="#262626" stroke-width="1.1"/>
<text x="272.59" y="115.70" font-size="10.2" textLength="14.33" lengthAdjust="spacingAndGlyphs" fill="#1c1c1c" stroke="#1c1c1c" stroke-width="0.12">0.8</text>
<line x1="291.70" y1="159.50" x2="299.00" y2="159.50" stroke="#262626" stroke-width="1.1"/>
<text x="278.43" y="159.00" font-size="10.2" textLength="6.49" lengthAdjust="spacingAndGlyphs" fill="#1c1c1c" stroke="#1c1c1c" stroke-width="0.12">0</text>
<line x1="291.70" y1="203.40" x2="299.00" y2="203.40" stroke="#262626" stroke-width="1.1"/>
<text x="268.52" y="206.00" font-size="10.2" textLength="18.44" lengthAdjust="spacingAndGlyphs" fill="#1c1c1c" stroke="#1c1c1c" stroke-width="0.12">-0.8</text>
<line x1="291.70" y1="247.30" x2="299.00" y2="247.30" stroke="#262626" stroke-width="1.1"/>
<text x="267.50" y="249.40" font-size="10.2" textLength="19.08" lengthAdjust="spacingAndGlyphs" fill="#1c1c1c" stroke="#1c1c1c" stroke-width="0.12">-1.6</text>
<line x1="302.95" y1="256.60" x2="445.95" y2="256.60" stroke="#262626" stroke-width="1.1"/>
<line x1="303.50" y1="256.60" x2="303.50" y2="263.90" stroke="#262626" stroke-width="1.1"/>
<line x1="339.10" y1="256.60" x2="339.10" y2="263.90" stroke="#262626" stroke-width="1.1"/>
<line x1="374.50" y1="256.60" x2="374.50" y2="263.90" stroke="#262626" stroke-width="1.1"/>
<line x1="409.90" y1="256.60" x2="409.90" y2="263.90" stroke="#262626" stroke-width="1.1"/>
<line x1="445.40" y1="256.60" x2="445.40" y2="263.90" stroke="#262626" stroke-width="1.1"/>
<text x="299.59" y="276.20" font-size="10.2" textLength="5.68" lengthAdjust="spacingAndGlyphs" fill="#1c1c1c" stroke="#1c1c1c" stroke-width="0.12">0</text>
<text x="321.88" y="276.20" font-size="10.2" textLength="23.59" lengthAdjust="spacingAndGlyphs" fill="#1c1c1c" stroke="#1c1c1c" stroke-width="0.12">5000</text>
<text x="388.50" y="276.20" font-size="10.2" textLength="29.68" lengthAdjust="spacingAndGlyphs" fill="#1c1c1c" stroke="#1c1c1c" stroke-width="0.12">15000</text>
<text x="336.03" y="296.10" font-size="10.7" textLength="52.95" lengthAdjust="spacingAndGlyphs" fill="#1c1c1c" stroke="#1c1c1c" stroke-width="0.12">Daily steps</text>
<text transform="translate(262.00 201.10) rotate(-90)" x="-0.49" y="0" font-size="10.8" textLength="137.78" lengthAdjust="spacingAndGlyphs" fill="#1c1c1c">Sleep onset latency, minutes</text>
<text x="328.74" y="80.30" font-size="9" textLength="10.47" lengthAdjust="spacingAndGlyphs" fill="#141414" stroke="#141414" stroke-width="0.25">1.5</text>
<text x="312.65" y="108.00" font-size="9" textLength="10.11" lengthAdjust="spacingAndGlyphs" fill="#45a4d9" stroke="#45a4d9" stroke-width="0.25">1.2</text>
<text x="344.58" y="118.40" font-size="9" textLength="11.04" lengthAdjust="spacingAndGlyphs" fill="#141414" stroke="#141414" stroke-width="0.25">0.8</text>
<text x="330.81" y="130.00" font-size="9" textLength="10.16" lengthAdjust="spacingAndGlyphs" fill="#45a4d9" stroke="#45a4d9" stroke-width="0.25">0.7</text>
<text x="352.01" y="158.00" font-size="9" textLength="10.23" lengthAdjust="spacingAndGlyphs" fill="#45a4d9" stroke="#45a4d9" stroke-width="0.25">0.1</text>
<text x="372.40" y="157.70" font-size="9" textLength="10.33" lengthAdjust="spacingAndGlyphs" fill="#141414" stroke="#141414" stroke-width="0.25">0.1</text>
<path d="M532.0,216.3 533.0,211.9 534.0,207.4 535.0,202.6 536.0,197.7 537.0,192.8 538.0,187.8 539.0,182.8 540.0,177.8 541.0,173.0 542.0,168.4 543.0,164.1 544.0,160.1 545.0,156.6 546.0,153.4 547.0,150.5 548.0,147.6 549.0,144.4 550.0,141.2 551.0,138.0 552.0,135.2 553.0,132.7 554.0,130.5 555.0,128.5 556.0,126.8 557.0,125.1 558.1,123.6 559.1,122.1 560.1,120.6 561.1,119.1 562.1,117.6 563.1,116.2 564.1,114.8 565.1,113.4 566.1,111.9 567.1,110.5 568.1,109.1 569.1,107.7 570.1,106.2 571.1,104.8 572.1,103.3 573.1,101.8 574.1,100.3 575.1,98.8 576.1,97.3 577.1,95.9 578.1,94.4 579.1,93.1 580.1,91.7 581.1,90.4 582.1,89.2 583.1,88.1 584.1,87.0 585.1,85.9 586.1,84.9 587.1,83.9 588.1,82.9 589.1,82.0 590.1,81.0 591.1,80.1 592.1,79.1 593.1,78.2 594.1,77.2 595.1,76.2 596.1,75.2 597.1,74.1 598.1,73.0 599.1,71.9 600.1,70.7 601.1,69.4 602.1,68.1 603.1,66.7 604.1,65.3 605.1,64.0 606.1,62.6 607.1,61.2 608.2,59.9 609.2,58.7 610.2,57.5 611.2,56.4 612.2,55.4 613.2,54.5 614.2,53.6 615.2,52.8 616.2,52.1 617.2,51.4 618.2,50.7 619.2,50.2 620.2,49.6 621.2,49.1 622.2,48.6 623.2,48.2 624.2,47.8 625.2,47.4 626.2,47.0 627.2,46.6 628.2,46.2 629.2,45.9 630.2,45.5 631.2,45.1 632.2,44.8 633.2,44.4 634.2,44.0 635.2,43.6 636.2,43.3 637.2,42.9 638.2,42.6 639.2,42.2 640.2,41.9 641.2,41.6 642.2,41.3 643.2,41.0 644.2,40.8 645.2,40.6 646.2,40.4 647.2,40.2 648.2,40.1 649.2,40.0 650.2,39.9 651.2,39.9 652.2,39.9 653.2,40.0 654.2,40.1 655.2,40.2 656.2,40.3 657.2,40.5 658.3,40.6 659.3,40.8 660.3,41.0 661.3,41.2 662.3,41.4 663.3,41.7 664.3,41.9 665.3,42.1 666.3,42.2 667.3,42.3 668.3,42.3 669.3,42.2 670.3,42.1 671.3,42.0 672.3,41.8 673.3,41.7 674.3,41.4 675.3,41.2 676.3,40.9 677.3,40.5 678.3,40.1 679.3,39.7 680.3,39.1 681.3,38.6 682.3,37.9 682.3,49.6 681.3,49.9 680.3,50.0 679.3,50.2 678.3,50.2 677.3,50.2 676.3,50.2 675.3,50.1 674.3,49.9 673.3,49.8 672.3,49.6 671.3,49.3 670.3,49.0 669.3,48.7 668.3,48.4 667.3,48.0 666.3,47.7 665.3,47.5 664.3,47.3 663.3,47.0 662.3,46.8 661.3,46.5 660.3,46.3 659.3,46.0 658.3,45.8 657.2,45.6 656.2,45.4 655.2,45.2 654.2,45.0 653.2,44.9 652.2,44.8 651.2,44.8 650.2,44.7 649.2,44.8 648.2,44.8 647.2,44.9 646.2,45.0 645.2,45.2 644.2,45.4 643.2,45.6 642.2,45.8 641.2,46.1 640.2,46.3 639.2,46.6 638.2,46.9 637.2,47.2 636.2,47.5 635.2,47.9 634.2,48.2 633.2,48.6 632.2,48.9 631.2,49.2 630.2,49.6 629.2,49.9 628.2,50.2 627.2,50.6 626.2,50.9 625.2,51.2 624.2,51.6 623.2,52.0 622.2,52.4 621.2,52.8 620.2,53.3 619.2,53.8 618.2,54.4 617.2,55.0 616.2,55.6 615.2,56.3 614.2,57.1 613.2,57.9 612.2,58.8 611.2,59.8 610.2,60.9 609.2,62.0 608.2,63.2 607.1,64.5 606.1,65.8 605.1,67.1 604.1,68.5 603.1,69.8 602.1,71.1 601.1,72.4 600.1,73.7 599.1,74.9 598.1,76.0 597.1,77.1 596.1,78.1 595.1,79.1 594.1,80.1 593.1,81.0 592.1,81.9 591.1,82.8 590.1,83.7 589.1,84.6 588.1,85.6 587.1,86.5 586.1,87.5 585.1,88.5 584.1,89.5 583.1,90.6 582.1,91.7 581.1,92.9 580.1,94.1 579.1,95.4 578.1,96.8 577.1,98.2 576.1,99.6 575.1,101.1 574.1,102.6 573.1,104.0 572.1,105.5 571.1,107.0 570.1,108.4 569.1,109.8 568.1,111.2 567.1,112.6 566.1,114.0 565.1,115.4 564.1,116.7 563.1,118.1 562.1,119.5 561.1,121.0 560.1,122.4 559.1,123.9 558.1,125.4 557.0,126.9 556.0,128.5 555.0,130.2 554.0,132.1 553.0,134.3 552.0,136.8 551.0,139.6 550.0,142.7 549.0,145.9 548.0,149.1 547.0,152.0 546.0,154.9 545.0,158.0 544.0,161.5 543.0,165.5 542.0,169.8 541.0,174.3 540.0,179.1 539.0,184.0 538.0,189.0 537.0,193.9 536.0,198.9 535.0,203.8 534.0,208.5 533.0,213.0 532.0,217.3Z" fill="#cfcfcf"/>
<path d="M532.0,182.7 533.0,179.3 534.0,175.8 535.0,172.1 536.0,168.4 537.0,164.7 538.0,160.9 539.0,157.2 540.0,153.5 541.0,149.9 542.0,146.4 543.0,143.1 544.0,139.9 545.0,137.0 546.0,134.2 547.0,131.6 548.0,129.3 549.0,127.1 550.0,125.2 551.0,123.3 552.0,121.6 553.0,120.1 554.0,118.7 555.0,117.3 556.0,116.1 557.0,114.9 558.1,113.8 559.1,112.7 560.1,111.6 561.1,110.6 562.1,109.5 563.1,108.5 564.1,107.5 565.1,106.6 566.1,105.6 567.1,104.6 568.1,103.7 569.1,102.7 570.1,101.8 571.1,100.9 572.1,100.0 573.1,99.0 574.1,98.1 575.1,97.2 576.1,96.3 577.1,95.4 578.1,94.5 579.1,93.6 580.1,92.7 581.1,91.8 582.1,90.9 583.1,90.0 584.1,89.1 585.1,88.2 586.1,87.3 587.1,86.4 588.1,85.4 589.1,84.5 590.1,83.5 591.1,82.6 592.1,81.6 593.1,80.6 594.1,79.6 595.1,78.6 596.1,77.6 597.1,76.6 598.1,75.5 599.1,74.5 600.1,73.5 601.1,72.5 602.1,71.4 603.1,70.4 604.1,69.4 605.1,68.4 606.1,67.4 607.1,66.4 608.2,65.5 609.2,64.5 610.2,63.6 611.2,62.7 612.2,61.8 613.2,60.9 614.2,60.1 615.2,59.3 616.2,58.5 617.2,57.8 618.2,57.1 619.2,56.4 620.2,55.8 621.2,55.2 622.2,54.7 623.2,54.2 624.2,53.7 625.2,53.3 626.2,53.0 627.2,52.7 628.2,52.4 629.2,52.2 630.2,52.0 631.2,51.8 632.2,51.6 633.2,51.4 634.2,51.2 635.2,51.0 636.2,50.8 637.2,50.5 638.2,50.3 639.2,50.0 640.2,49.7 641.2,49.5 642.2,49.2 643.2,49.0 644.2,48.8 645.2,48.6 646.2,48.4 647.2,48.3 648.2,48.2 649.2,48.1 650.2,48.1 651.2,48.1 652.2,48.1 653.2,48.2 654.2,48.3 655.2,48.5 656.2,48.7 657.2,48.9 658.3,49.1 659.3,49.3 660.3,49.6 661.3,49.9 662.3,50.2 663.3,50.4 664.3,50.7 665.3,51.0 666.3,51.3 667.3,51.4 668.3,51.5 669.3,51.6 670.3,51.6 671.3,51.7 672.3,51.7 673.3,51.6 674.3,51.6 675.3,51.4 676.3,51.3 677.3,51.1 678.3,50.8 679.3,50.5 680.3,50.2 681.3,49.7 682.3,49.2 682.3,62.1 681.3,62.1 680.3,62.0 679.3,61.9 678.3,61.6 677.3,61.4 676.3,61.1 675.3,60.7 674.3,60.3 673.3,59.8 672.3,59.4 671.3,58.8 670.3,58.3 669.3,57.7 668.3,57.1 667.3,56.5 666.3,56.0 665.3,55.8 664.3,55.5 663.3,55.2 662.3,54.9 661.3,54.6 660.3,54.3 659.3,54.0 658.3,53.8 657.2,53.5 656.2,53.3 655.2,53.1 654.2,52.9 653.2,52.8 652.2,52.7 651.2,52.6 650.2,52.6 649.2,52.6 648.2,52.7 647.2,52.8 646.2,52.9 645.2,53.1 644.2,53.3 643.2,53.5 642.2,53.7 641.2,53.9 640.2,54.1 639.2,54.4 638.2,54.6 637.2,54.8 636.2,55.0 635.2,55.2 634.2,55.4 633.2,55.6 632.2,55.7 631.2,55.9 630.2,56.1 629.2,56.2 628.2,56.4 627.2,56.7 626.2,56.9 625.2,57.2 624.2,57.6 623.2,58.0 622.2,58.4 621.2,59.0 620.2,59.5 619.2,60.1 618.2,60.7 617.2,61.4 616.2,62.1 615.2,62.8 614.2,63.6 613.2,64.4 612.2,65.2 611.2,66.1 610.2,66.9 609.2,67.8 608.2,68.7 607.1,69.7 606.1,70.6 605.1,71.6 604.1,72.5 603.1,73.5 602.1,74.5 601.1,75.5 600.1,76.5 599.1,77.5 598.1,78.5 597.1,79.5 596.1,80.5 595.1,81.5 594.1,82.4 593.1,83.4 592.1,84.4 591.1,85.3 590.1,86.2 589.1,87.2 588.1,88.1 587.1,89.0 586.1,89.9 585.1,90.8 584.1,91.7 583.1,92.5 582.1,93.4 581.1,94.3 580.1,95.2 579.1,96.0 578.1,96.9 577.1,97.8 576.1,98.6 575.1,99.5 574.1,100.4 573.1,101.3 572.1,102.1 571.1,103.0 570.1,103.9 569.1,104.8 568.1,105.7 567.1,106.7 566.1,107.6 565.1,108.5 564.1,109.5 563.1,110.5 562.1,111.4 561.1,112.4 560.1,113.5 559.1,114.5 558.1,115.5 557.0,116.6 556.0,117.8 555.0,119.0 554.0,120.3 553.0,121.7 552.0,123.3 551.0,124.9 550.0,126.7 549.0,128.7 548.0,130.8 547.0,133.1 546.0,135.6 545.0,138.4 544.0,141.3 543.0,144.4 542.0,147.7 541.0,151.2 540.0,154.7 539.0,158.4 538.0,162.1 537.0,165.9 536.0,169.6 535.0,173.3 534.0,176.9 533.0,180.4 532.0,183.7Z" fill="#cfcfcf"/>
<path d="M532.0,216.8 533.0,212.5 534.0,207.9 535.0,203.2 536.0,198.3 537.0,193.4 538.0,188.4 539.0,183.4 540.0,178.5 541.0,173.7 542.0,169.1 543.0,164.8 544.0,160.8 545.0,157.3 546.0,154.1 547.0,151.3 548.0,148.3 549.0,145.2 550.0,142.0 551.0,138.8 552.0,136.0 553.0,133.5 554.0,131.3 555.0,129.4 556.0,127.6 557.0,126.0 558.1,124.5 559.1,123.0 560.1,121.5 561.1,120.0 562.1,118.6 563.1,117.2 564.1,115.8 565.1,114.4 566.1,113.0 567.1,111.6 568.1,110.2 569.1,108.7 570.1,107.3 571.1,105.9 572.1,104.4 573.1,102.9 574.1,101.5 575.1,100.0 576.1,98.5 577.1,97.0 578.1,95.6 579.1,94.3 580.1,92.9 581.1,91.7 582.1,90.5 583.1,89.3 584.1,88.2 585.1,87.2 586.1,86.2 587.1,85.2 588.1,84.2 589.1,83.3 590.1,82.4 591.1,81.5 592.1,80.5 593.1,79.6 594.1,78.6 595.1,77.7 596.1,76.7 597.1,75.6 598.1,74.5 599.1,73.4 600.1,72.2 601.1,70.9 602.1,69.6 603.1,68.3 604.1,66.9 605.1,65.5 606.1,64.2 607.1,62.9 608.2,61.6 609.2,60.4 610.2,59.2 611.2,58.1 612.2,57.1 613.2,56.2 614.2,55.4 615.2,54.6 616.2,53.9 617.2,53.2 618.2,52.6 619.2,52.0 620.2,51.5 621.2,51.0 622.2,50.5 623.2,50.1 624.2,49.7 625.2,49.3 626.2,48.9 627.2,48.6 628.2,48.2 629.2,47.9 630.2,47.5 631.2,47.2 632.2,46.8 633.2,46.5 634.2,46.1 635.2,45.8 636.2,45.4 637.2,45.1 638.2,44.7 639.2,44.4 640.2,44.1 641.2,43.8 642.2,43.6 643.2,43.3 644.2,43.1 645.2,42.9 646.2,42.8 647.2,42.6 648.2,42.5 649.2,42.5 650.2,42.4 651.2,42.4 652.2,42.5 653.2,42.6 654.2,42.7 655.2,42.8 656.2,43.0 657.2,43.2 658.3,43.4 659.3,43.6 660.3,43.8 661.3,44.1 662.3,44.3 663.3,44.5 664.3,44.8 665.3,45.0 666.3,45.2 667.3,45.4 668.3,45.6 669.3,45.8 670.3,45.9 671.3,46.1 672.3,46.2 673.3,46.2 674.3,46.2 675.3,46.2 676.3,46.1 677.3,46.0 678.3,45.9 679.3,45.6 680.3,45.4 681.3,45.0 682.3,44.6" fill="none" stroke="#141414" stroke-width="1.4" stroke-linejoin="round"/>
<path d="M532.0,183.2 533.0,179.8 534.0,176.3 535.0,172.7 536.0,169.0 537.0,165.3 538.0,161.5 539.0,157.8 540.0,154.1 541.0,150.5 542.0,147.1 543.0,143.8 544.0,140.6 545.0,137.7 546.0,134.9 547.0,132.4 548.0,130.0 549.0,127.9 550.0,125.9 551.0,124.1 552.0,122.4 553.0,120.9 554.0,119.5 555.0,118.2 556.0,116.9 557.0,115.8 558.1,114.7 559.1,113.6 560.1,112.5 561.1,111.5 562.1,110.5 563.1,109.5 564.1,108.5 565.1,107.6 566.1,106.6 567.1,105.6 568.1,104.7 569.1,103.8 570.1,102.9 571.1,102.0 572.1,101.0 573.1,100.1 574.1,99.3 575.1,98.4 576.1,97.5 577.1,96.6 578.1,95.7 579.1,94.8 580.1,93.9 581.1,93.1 582.1,92.2 583.1,91.3 584.1,90.4 585.1,89.5 586.1,88.6 587.1,87.7 588.1,86.7 589.1,85.8 590.1,84.9 591.1,83.9 592.1,83.0 593.1,82.0 594.1,81.0 595.1,80.0 596.1,79.0 597.1,78.0 598.1,77.0 599.1,76.0 600.1,75.0 601.1,74.0 602.1,73.0 603.1,72.0 604.1,71.0 605.1,70.0 606.1,69.0 607.1,68.1 608.2,67.1 609.2,66.2 610.2,65.3 611.2,64.4 612.2,63.5 613.2,62.7 614.2,61.9 615.2,61.1 616.2,60.3 617.2,59.6 618.2,58.9 619.2,58.3 620.2,57.6 621.2,57.1 622.2,56.6 623.2,56.1 624.2,55.7 625.2,55.3 626.2,55.0 627.2,54.7 628.2,54.4 629.2,54.2 630.2,54.0 631.2,53.8 632.2,53.7 633.2,53.5 634.2,53.3 635.2,53.1 636.2,52.9 637.2,52.7 638.2,52.4 639.2,52.2 640.2,51.9 641.2,51.7 642.2,51.5 643.2,51.2 644.2,51.0 645.2,50.9 646.2,50.7 647.2,50.6 648.2,50.5 649.2,50.4 650.2,50.4 651.2,50.4 652.2,50.4 653.2,50.5 654.2,50.7 655.2,50.8 656.2,51.0 657.2,51.3 658.3,51.5 659.3,51.8 660.3,52.0 661.3,52.3 662.3,52.6 663.3,52.9 664.3,53.2 665.3,53.5 666.3,53.7 667.3,54.0 668.3,54.3 669.3,54.5 670.3,54.7 671.3,54.9 672.3,55.1 673.3,55.2 674.3,55.3 675.3,55.3 676.3,55.3 677.3,55.3 678.3,55.2 679.3,55.0 680.3,54.8 681.3,54.6 682.3,54.2" fill="none" stroke="#2ea88a" stroke-width="1.35" stroke-linejoin="round"/>
<line x1="526.00" y1="82.20" x2="673.30" y2="82.20" stroke="#2a2a2a" stroke-width="1" stroke-dasharray="3.9 2.9"/>
<line x1="553.00" y1="17.60" x2="553.00" y2="256.40" stroke="#4a8ecf" stroke-width="1.5" stroke-dasharray="4.3 4.07"/>
<line x1="569.90" y1="17.60" x2="569.90" y2="256.40" stroke="#4a8ecf" stroke-width="1.5" stroke-dasharray="4.3 4.07"/>
<line x1="593.00" y1="17.60" x2="593.00" y2="256.40" stroke="#4a8ecf" stroke-width="1.5" stroke-dasharray="4.3 4.07"/>
<text x="475.30" y="11.90" font-size="13.8" textLength="10.12" lengthAdjust="spacingAndGlyphs" fill="#1c1c1c" stroke="#1c1c1c" stroke-width="0.3">C</text>
<line x1="525.85" y1="26.55" x2="525.85" y2="247.35" stroke="#262626" stroke-width="1.4"/>
<line x1="518.70" y1="27.10" x2="526.00" y2="27.10" stroke="#262626" stroke-width="1.1"/>
<text x="500.50" y="31.70" font-size="10.2" textLength="14.01" lengthAdjust="spacingAndGlyphs" fill="#1c1c1c" stroke="#1c1c1c" stroke-width="0.12">0.5</text>
<line x1="518.70" y1="81.90" x2="526.00" y2="81.90" stroke="#262626" stroke-width="1.1"/>
<text x="500.17" y="87.00" font-size="10.2" textLength="15.01" lengthAdjust="spacingAndGlyphs" fill="#1c1c1c" stroke="#1c1c1c" stroke-width="0.12">0.0</text>
<line x1="518.70" y1="136.80" x2="526.00" y2="136.80" stroke="#262626" stroke-width="1.1"/>
<text x="494.81" y="144.60" font-size="10.2" textLength="19.37" lengthAdjust="spacingAndGlyphs" fill="#1c1c1c" stroke="#1c1c1c" stroke-width="0.12">−0.5</text>
<line x1="518.70" y1="191.80" x2="526.00" y2="191.80" stroke="#262626" stroke-width="1.1"/>
<text x="494.80" y="199.60" font-size="10.2" textLength="19.64" lengthAdjust="spacingAndGlyphs" fill="#1c1c1c" stroke="#1c1c1c" stroke-width="0.12">−1.0</text>
<line x1="518.70" y1="246.80" x2="526.00" y2="246.80" stroke="#262626" stroke-width="1.1"/>
<text x="494.81" y="250.70" font-size="10.2" textLength="19.37" lengthAdjust="spacingAndGlyphs" fill="#1c1c1c" stroke="#1c1c1c" stroke-width="0.12">−1.5</text>
<line x1="530.25" y1="256.40" x2="673.35" y2="256.40" stroke="#262626" stroke-width="1.1"/>
<line x1="530.80" y1="256.40" x2="530.80" y2="263.70" stroke="#262626" stroke-width="1.1"/>
<line x1="566.30" y1="256.40" x2="566.30" y2="263.70" stroke="#262626" stroke-width="1.1"/>
<line x1="601.80" y1="256.40" x2="601.80" y2="263.70" stroke="#262626" stroke-width="1.1"/>
<line x1="637.30" y1="256.40" x2="637.30" y2="263.70" stroke="#262626" stroke-width="1.1"/>
<line x1="672.80" y1="256.40" x2="672.80" y2="263.70" stroke="#262626" stroke-width="1.1"/>
<text x="526.98" y="276.20" font-size="10.2" textLength="5.79" lengthAdjust="spacingAndGlyphs" fill="#1c1c1c" stroke="#1c1c1c" stroke-width="0.12">0</text>
<text x="549.27" y="276.20" font-size="10.2" textLength="23.70" lengthAdjust="spacingAndGlyphs" fill="#1c1c1c" stroke="#1c1c1c" stroke-width="0.12">5000</text>
<text x="615.92" y="276.20" font-size="10.2" textLength="28.95" lengthAdjust="spacingAndGlyphs" fill="#1c1c1c" stroke="#1c1c1c" stroke-width="0.12">15000</text>
<text x="563.43" y="296.10" font-size="10.7" textLength="52.95" lengthAdjust="spacingAndGlyphs" fill="#1c1c1c" stroke="#1c1c1c" stroke-width="0.12">Daily steps</text>
<text transform="translate(487.80 178.40) rotate(-90)" x="-0.48" y="0" font-size="10.5" textLength="88.46" lengthAdjust="spacingAndGlyphs" fill="#1c1c1c">Sleep efficiency, %</text>
<text x="537.50" y="119.30" font-size="9" textLength="10.32" lengthAdjust="spacingAndGlyphs" fill="#45a4d9" stroke="#45a4d9" stroke-width="0.25">0.4</text>
<text x="556.30" y="103.30" font-size="9" textLength="10.48" lengthAdjust="spacingAndGlyphs" fill="#45a4d9" stroke="#45a4d9" stroke-width="0.25">0.2</text>
<text x="553.71" y="143.10" font-size="9" textLength="10.19" lengthAdjust="spacingAndGlyphs" fill="#141414" stroke="#141414" stroke-width="0.25">0.5</text>
<text x="573.11" y="115.40" font-size="9" textLength="9.94" lengthAdjust="spacingAndGlyphs" fill="#141414" stroke="#141414" stroke-width="0.25">0.2</text>
<text x="580.40" y="80.00" font-size="9" textLength="10.25" lengthAdjust="spacingAndGlyphs" fill="#45a4d9" stroke="#45a4d9" stroke-width="0.25">0.0</text>
<text x="595.99" y="89.90" font-size="9" textLength="10.78" lengthAdjust="spacingAndGlyphs" fill="#141414" stroke="#141414" stroke-width="0.25">0.0</text>
</svg>
</body></html>
